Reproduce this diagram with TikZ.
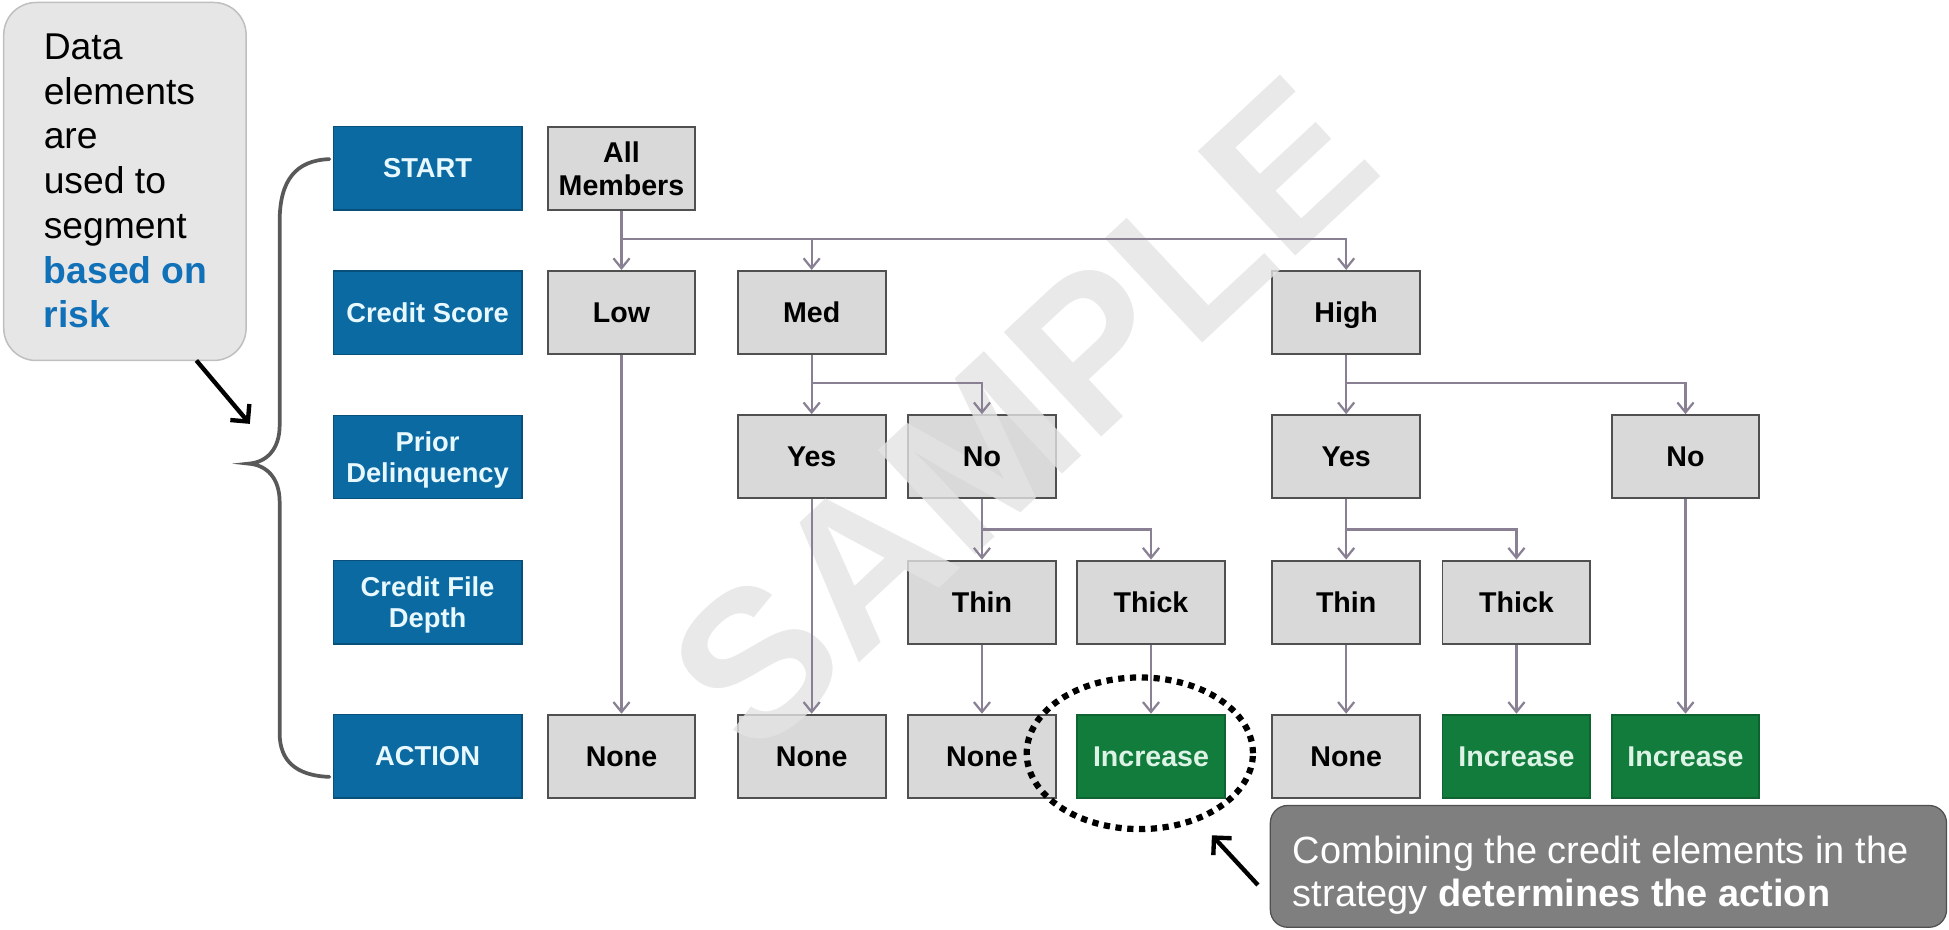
\documentclass[tikz,border=0pt]{standalone}
\usepackage{fontspec}
\setmainfont{Liberation Sans}
\usetikzlibrary{arrows.meta}
\definecolor{catblue}{HTML}{0B6AA2}
\definecolor{cattext}{HTML}{E8F8FF}
\definecolor{segfill}{HTML}{D9D9D9}
\definecolor{segline}{HTML}{505050}
\definecolor{actgreen}{HTML}{127C3C}
\definecolor{acttext}{HTML}{DDF3E6}
\definecolor{conncol}{HTML}{8A8094}
\definecolor{callfill}{HTML}{E6E6E6}
\definecolor{callline}{HTML}{BFBFBF}
\definecolor{riskblue}{HTML}{1070B8}
\definecolor{darkcall}{HTML}{7F7F7F}
\definecolor{bracecol}{HTML}{595959}
\definecolor{wmcol}{HTML}{E3E3E3}
\pgfdeclarelayer{boxes}
\pgfdeclarelayer{mark}
\pgfsetlayers{boxes,mark,main}
\tikzset{
  cat/.style={rectangle, fill=catblue, draw=catblue!75!black, line width=1pt,
    minimum width=152pt, minimum height=67pt, inner sep=0pt, text=cattext,
    font=\fontsize{22}{25}\selectfont\bfseries, align=center, text depth=0pt},
  seg/.style={rectangle, fill=segfill, draw=segline, line width=1.6pt,
    minimum width=119pt, minimum height=67pt, inner sep=0pt},
  act/.style={seg, fill=actgreen, draw=actgreen!80!black},
  segtext/.style={inner sep=0pt, text=black, align=center, text depth=0pt,
    font=\fontsize{23}{27}\selectfont\bfseries},
  acttext/.style={segtext, text=acttext},
  link/.style={draw=conncol, line width=1.8pt},
  conn/.style={link, -{Straight Barb[length=8pt,width=13pt,line width=1.8pt]}},
  pointer/.style={draw=black, line width=3.5pt, -{Straight Barb[length=10pt,width=20pt,line width=3.5pt]}}
}
\begin{document}
\begin{tikzpicture}[x=1pt,y=-1pt]
\useasboundingbox (0,0) rectangle (1568,748);

% left callout
\node[draw=callline, fill=callfill, line width=1.2pt, rounded corners=26pt,
  minimum width=195pt, minimum height=288pt, inner sep=0pt] (callL) at (100.5,146) {};
\node[anchor=north west, inner sep=0pt, align=left,
  font=\fontsize{30}{36}\selectfont] (callLtext) at (35,27)
  {Data\\elements\\are\\used to\\segment\\{\color{riskblue}\bfseries based on}\\{\color{riskblue}\bfseries risk}};
\coordinate (callLtip) at (201,341);
\draw[pointer] (158,290) -- (callLtip);

% brace
\draw[draw=bracecol, line width=3pt, line cap=round]
  (265,128) .. controls (238,129) and (225,145) .. (225,178) -- (225,342)
  .. controls (225,362) and (214,372) .. (200,373)
  .. controls (214,374) and (225,384) .. (225,404) -- (225,590)
  .. controls (225,612) and (238,624) .. (265,625);

% category column
\node[cat] (kStart)  at (344,135.5) {START};
\node[cat] (kScore)  at (344,251.5) {Credit Score};
\node[cat] (kPrior)  at (344,367.5) {Prior\\Delinquency};
\node[cat] (kDepth)  at (344,484.5) {Credit File\\Depth};
\node[cat] (kAction) at (344,608.5) {ACTION};

% tree boxes (shapes)
\begin{pgfonlayer}{boxes}
\node[seg] (all)   at (500,135.5) {};
\node[seg] (low)   at (500,251.5) {};
\node[seg] (med)   at (653,251.5) {};
\node[seg] (high)  at (1083,251.5) {};
\node[seg] (yesM)  at (653,367.5) {};
\node[seg] (noM)   at (790,367.5) {};
\node[seg] (yesH)  at (1083,367.5) {};
\node[seg] (noH)   at (1356,367.5) {};
\node[seg] (thinM) at (790,484.5) {};
\node[seg] (thickM)at (926,484.5) {};
\node[seg] (thinH) at (1083,484.5) {};
\node[seg] (thickH)at (1220,484.5) {};
\node[seg] (a1) at (500,608.5) {};
\node[seg] (a2) at (653,608.5) {};
\node[seg] (a3) at (790,608.5) {};
\node[act] (a4) at (926,608.5) {};
\node[seg] (a5) at (1083,608.5) {};
\node[act] (a6) at (1220,608.5) {};
\node[act] (a7) at (1356,608.5) {};
\end{pgfonlayer}

% watermark (above box fills, below texts and connectors)
\begin{pgfonlayer}{mark}
\node[rotate=43, text=wmcol, text opacity=0.8, inner sep=0pt,
  font=\fontsize{167}{167}\selectfont\bfseries] (wm) at (822,333) {SAMPLE};
\end{pgfonlayer}

% box texts
\node[segtext] (allT)   at (all)   {All\\Members};
\node[segtext] (lowT)   at (low)   {Low};
\node[segtext] (medT)   at (med)   {Med};
\node[segtext] (highT)  at (high)  {High};
\node[segtext] (yesMT)  at (yesM)  {Yes};
\node[segtext] (noMT)   at (noM)   {No};
\node[segtext] (yesHT)  at (yesH)  {Yes};
\node[segtext] (noHT)   at (noH)   {No};
\node[segtext] (thinMT) at (thinM) {Thin};
\node[segtext] (thickMT)at (thickM){Thick};
\node[segtext] (thinHT) at (thinH) {Thin};
\node[segtext] (thickHT)at (thickH){Thick};
\node[segtext] (a1T) at (a1) {None};
\node[segtext] (a2T) at (a2) {None};
\node[segtext] (a3T) at (a3) {None};
\node[acttext] (a4T) at (a4) {Increase};
\node[segtext] (a5T) at (a5) {None};
\node[acttext] (a6T) at (a6) {Increase};
\node[acttext] (a7T) at (a7) {Increase};

% connectors
\coordinate (j0) at (500,192);
\draw[link] (all.south) -- (j0);
\draw[conn] (j0) -- (low.north);
\draw[conn] (j0) -| (med.north);
\draw[conn] (j0) -| (high.north);

\coordinate (j1) at (653,308);
\draw[link] (med.south) -- (j1);
\draw[conn] (j1) -- (yesM.north);
\draw[conn] (j1) -| (noM.north);

\coordinate (j2) at (1083,308);
\draw[link] (high.south) -- (j2);
\draw[conn] (j2) -- (yesH.north);
\draw[conn] (j2) -| (noH.north);

\coordinate (j3) at (790,426);
\draw[link] (noM.south) -- (j3);
\draw[conn] (j3) -- (thinM.north);
\draw[conn] (j3) -| (thickM.north);

\coordinate (j4) at (1083,426);
\draw[link] (yesH.south) -- (j4);
\draw[conn] (j4) -- (thinH.north);
\draw[conn] (j4) -| (thickH.north);

\draw[conn] (low.south) -- (a1.north);
\draw[conn] (yesM.south) -- (a2.north);
\draw[conn] (thinM.south) -- (a3.north);
\draw[conn] (thickM.south) -- (a4.north);
\draw[conn] (thinH.south) -- (a5.north);
\draw[conn] (thickH.south) -- (a6.north);
\draw[conn] (noH.south) -- (a7.north);

% dotted ellipse
\draw[line width=5pt, dash pattern=on 5pt off 4.5pt] (917,606) ellipse [x radius=91pt, y radius=61pt];
\coordinate (ellTip) at (975,672);

% bottom callout
\node[draw=segline, fill=darkcall, line width=1pt, rounded corners=14pt,
  minimum width=544pt, minimum height=98pt, inner sep=0pt] (callR) at (1294,697) {};
\node[anchor=north west, inner sep=0pt, align=left, text=white,
  font=\fontsize{30.5}{35}\selectfont] (callRtext) at (1040,672)
  {Combining the credit elements in the\\strategy \textbf{determines the action}};
\draw[pointer] (1012,712) -- (ellTip);
\end{tikzpicture}
\end{document}
